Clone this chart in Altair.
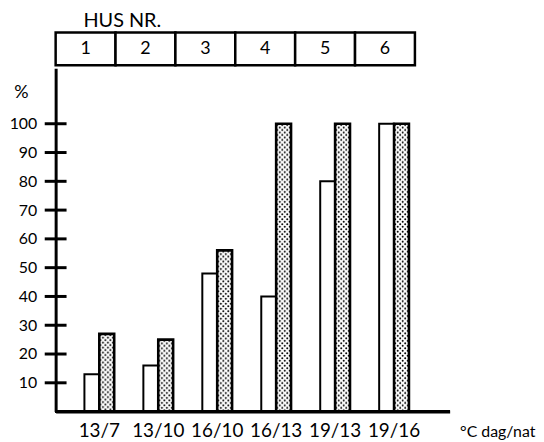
import base64
import altair as alt
import pandas as pd

# ---- data ----
houses = ["1", "2", "3", "4", "5", "6"]
temps = ["13/7", "13/10", "16/10", "16/13", "19/13", "19/16"]
white_vals = [13, 16, 48, 40, 80, 100]
dotted_vals = [27, 25, 56, 100, 100, 100]
y_ticks = [10, 20, 30, 40, 50, 60, 70, 80, 90, 100]

FONT = "Lato"

df = pd.DataFrame({
    "temp": temps * 2,
    "series": ["a"] * len(temps) + ["b"] * len(temps),
    "value": white_vals + dotted_vals,
})
tick_df = pd.DataFrame({"value": y_ticks})
house_df = pd.DataFrame({"house": houses})

# stipple pattern (tiled at 1:1 inside the bar rectangle)
pattern_svg = (
    '<svg xmlns="http://www.w3.org/2000/svg" width="100%" height="100%">'
    '<defs><pattern id="d" width="5" height="5" patternUnits="userSpaceOnUse">'
    '<rect width="5" height="5" fill="white"/>'
    '<circle cx="1.2" cy="1.2" r="1.0" fill="black"/>'
    '<circle cx="3.7" cy="3.7" r="1.0" fill="black"/>'
    '</pattern></defs>'
    '<rect width="100%" height="100%" fill="url(#d)"/></svg>'
)
pattern_uri = "data:image/svg+xml;base64," + base64.b64encode(pattern_svg.encode()).decode()

xscale = alt.Scale(domain=temps, paddingInner=0, paddingOuter=0.342, align=0.352)
xoff_scale = alt.Scale(domain=["a", "b"], paddingInner=0, paddingOuter=0.98)
yscale = alt.Scale(domain=[0, 119.3], nice=False, zero=True)

x_axis = alt.Axis(
    title="°C dag/nat", labelAngle=0, ticks=False, tickSize=0, labelPadding=10,
    labelOverlap=False, labelFontSize=19, labelFont=FONT, labelColor="black",
    domain=True, domainColor="black", domainWidth=3,
    titleX=407, titleY=25, titleAlign="left", titleBaseline="alphabetic",
    titleFontSize=16, titleFont=FONT, titleFontWeight="normal", titleColor="black",
)
y_axis = alt.Axis(
    values=y_ticks, ticks=False, tickSize=0, labelPadding=19, grid=False,
    labelOverlap=False, labelFontSize=16, labelFont=FONT, labelColor="black",
    domain=True, domainColor="black", domainWidth=3,
    title="%", titleAngle=0, titleX=-35, titleY=25, titleAlign="center",
    titleBaseline="middle", titleFontSize=18, titleFont=FONT,
    titleFontWeight="normal", titleColor="black",
)

x_enc = alt.X("temp:N", scale=xscale, sort=temps, axis=x_axis)
y_enc = alt.Y("value:Q", scale=yscale, axis=y_axis)
xo = alt.XOffset("series:N", scale=xoff_scale)

base = alt.Chart(df)
white_bars = base.transform_filter("datum.series == 'a'").mark_bar(
    fill="white", stroke="black", strokeWidth=2
).encode(x=x_enc, xOffset=xo, y=y_enc)

dot_bg = base.transform_filter("datum.series == 'b'").mark_bar(
    fill="#c0c0c0", strokeWidth=0
).encode(x=x_enc, xOffset=xo, y=y_enc)

dot_img = base.transform_filter("datum.series == 'b'").mark_image(aspect=False).encode(
    x=x_enc, xOffset=xo, y=y_enc, y2=alt.datum(0), url=alt.value(pattern_uri)
)

dot_outline = base.transform_filter("datum.series == 'b'").mark_bar(
    fill="white", fillOpacity=0, stroke="black", strokeWidth=2.6
).encode(x=x_enc, xOffset=xo, y=y_enc)

tick_marks = alt.Chart(tick_df).mark_tick(
    orient="horizontal", color="black", thickness=3, size=22, opacity=1
).encode(y=y_enc, x=alt.value(0))

baseline_rule = alt.Chart(tick_df).mark_rule(color="black", strokeWidth=3).encode(
    y=alt.YDatum(0, scale=yscale, axis=y_axis)
)

bottom = alt.layer(
    white_bars, dot_bg, dot_img, dot_outline, tick_marks, baseline_rule
).properties(width=397, height=346)

hx = alt.X("house:N", sort=houses, scale=alt.Scale(paddingInner=0, paddingOuter=0), axis=None)
cells = alt.Chart(house_df).mark_rect(fill="white", stroke="black", strokeWidth=2.5).encode(x=hx)
nums = alt.Chart(house_df).mark_text(
    fontSize=18, font=FONT, color="black", baseline="middle"
).encode(x=hx, y=alt.value(17), text="house:N")

top = alt.layer(cells, nums).properties(
    width=362, height=33,
    title=alt.TitleParams(
        "HUS NR.", anchor="start", frame="group", dx=28, offset=0,
        fontSize=20, font=FONT, fontWeight="normal", color="black",
    ),
)

chart = (
    alt.vconcat(top, bottom, spacing=0)
    .resolve_scale(x="independent")
    .configure_view(stroke="transparent")
    .properties(padding={"left": 0, "top": 1, "right": 0, "bottom": 0})
)

chart.save("out.html", embed_options={"renderer": "svg", "actions": False})
